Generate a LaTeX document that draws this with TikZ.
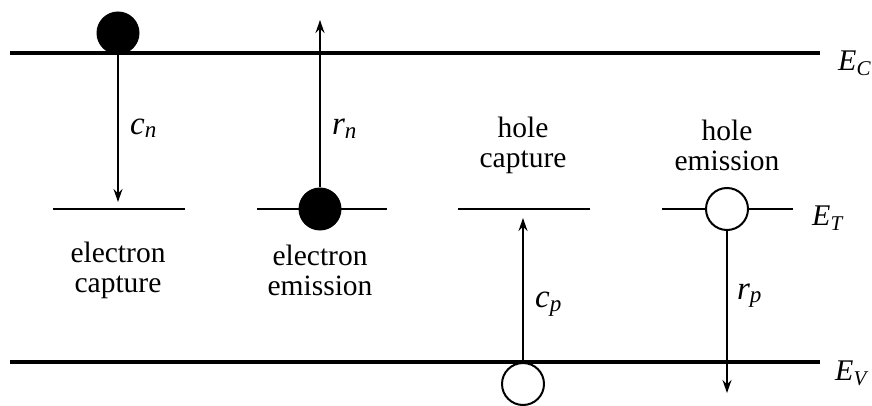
\documentclass[tikz,border=0pt]{standalone}
\usepackage{amsmath}
\usepackage{fontspec}
\setmainfont{Liberation Serif}
\usepackage{tikz}
\usetikzlibrary{arrows.meta}
\tikzset{band/.style={line width=3.5pt},
  level/.style={line width=1.6pt},
  trans/.style={line width=1.6pt,-{Stealth[length=13pt,width=9pt]}},
  electron/.style={circle,fill=black,inner sep=0pt,minimum size=43pt},
  hole/.style={circle,draw=black,line width=2pt,fill=white,inner sep=0pt,minimum size=42pt},
  lbl/.style={font=\fontsize{29.5}{30}\selectfont,align=center},
  ratelbl/.style={font=\fontsize{33}{34}\selectfont},
  elbl/.style={font=\fontsize{30}{32}\selectfont,anchor=west,inner sep=0pt}}
\newcommand{\rate}[2]{$\textit{#1}_{\textit{#2}}$}

\begin{document}
\begin{tikzpicture}[x=1pt,y=-1pt]
\useasboundingbox (0,0) rectangle (872,406);
% bands
\draw[band] (10,53) coordinate (ecl) -- (820,53) coordinate (ecr);
\draw[band] (10,362) coordinate (evl) -- (820,362) coordinate (evr);
\node[elbl] (ec) at (838,63) {$\textit{E}_{\textit{C}}$};
\node[elbl] (ev) at (835,373) {$\textit{E}_{\textit{V}}$};
% trap levels
\draw[level] (53,209) -- (185,209);
\draw[level] (257,209) -- (387,209);
\draw[level] (458,209) -- (590,209);
\draw[level] (662,209) -- (793,209);
\node[elbl] (et) at (812,218) {$\textit{E}_{\textit{T}}$};
% electron capture
\node[electron] (e1) at (118,33) {};
\coordinate (t1) at (118,202);
\draw[trans] (e1.south) -- (t1) node[pos=0.5,right=8pt,ratelbl] {\rate{c}{n}};
\node[lbl] (l1) at (118,270) {electron\\capture};
% electron emission
\node[electron] (e2) at (320,209) {};
\coordinate (t2) at (320,20);
\draw[trans] (e2.north) -- (t2) node[pos=0.35,right=8pt,ratelbl] {\rate{r}{n}};
\node[lbl] (l2) at (320,270) {electron\\emission};
% hole capture
\node[hole] (h3) at (523,384) {};
\coordinate (t3) at (523,218);
\draw[trans] (h3.north) -- (t3) node[pos=0.4,right=8pt,ratelbl] {\rate{c}{p}};
\node[lbl] (l3) at (523,145) {hole\\capture};
% hole emission
\node[hole] (h4) at (727,209) {};
\coordinate (t4) at (727,393);
\draw[trans] (h4.south) -- (t4) node[pos=0.4,right=6pt,ratelbl] {\rate{r}{p}};
\node[lbl] (l4) at (727,145) {hole\\emission};
\end{tikzpicture}
\end{document}
